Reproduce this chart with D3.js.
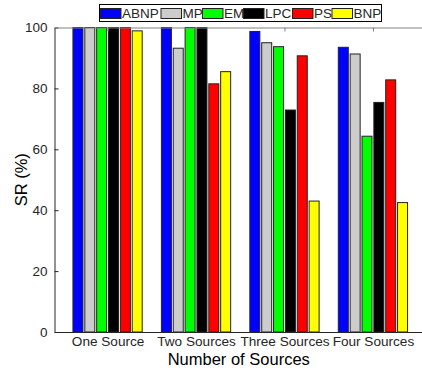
<!DOCTYPE html>
<html><head><meta charset="utf-8">
<script src="https://cdn.jsdelivr.net/npm/d3@7"></script>
<style>body{margin:0;background:#fff}svg{display:block;font-family:"Liberation Sans",Arial,sans-serif}</style>
</head><body><svg id="c" width="422" height="368"></svg>
<script>
const categories = ["One Source","Two Sources","Three Sources","Four Sources"];
const seriesNames = ["ABNP","MP","EM","LPC","PS","BNP"];
const seriesColors = ["#0000ff","#cccccc","#00ff00","#000000","#ff0000","#ffff00"];
const ABNP = [100, 100, 98.7, 93.5];
const MP   = [100, 93.2, 95.0, 91.3];
const EM   = [100, 100, 93.7, 64.3];
const LPC  = [100, 100, 72.9, 75.4];
const PS   = [100, 81.5, 90.7, 82.8];
const BNP  = [98.9, 85.5, 43.0, 42.5];
const yTicks = [0,20,40,60,80,100];
const seriesValues = [ABNP, MP, EM, LPC, PS, BNP];

const svg = d3.select("#c");
const L = 54.5, R = 426, T = 27.5, B = 332;
const x = d3.scaleLinear().domain([0.4, 4.6]).range([L, R]);
const y = d3.scaleLinear().domain([0, 100]).range([B, T]);
const txt = "#262626", axc = "#262626";
const pitch = 0.134, bw = 0.113;

// bars
const g = svg.append("g");
seriesValues.forEach((vals, s) => {
  g.selectAll(null).data(vals).enter().append("rect")
    .attr("x", (d,i) => x(i+1 + (s-2.5)*pitch - bw/2))
    .attr("width", x(bw) - x(0))
    .attr("y", d => y(d))
    .attr("height", d => y(0) - y(d))
    .attr("fill", seriesColors[s])
    .attr("stroke", "#222").attr("stroke-width", 1);
});

// axes
const yAxis = d3.axisLeft(y).tickValues(yTicks).tickSizeInner(-4).tickSizeOuter(0).tickPadding(7);
const ya = svg.append("g").attr("transform", `translate(${L},0)`).call(yAxis);
ya.select(".domain").attr("stroke", axc);
ya.selectAll(".tick line").attr("stroke", axc);
ya.selectAll("text").attr("font-size", 13.5).attr("fill", txt).attr("font-family","Liberation Sans, Arial, sans-serif");

const xAxis = d3.axisBottom(x).tickValues([1,2,3,4]).tickFormat(i => categories[i-1]).tickSizeInner(0).tickSizeOuter(0).tickPadding(4);
const xa = svg.append("g").attr("transform", `translate(0,${B})`).call(xAxis);
xa.select(".domain").attr("stroke", axc);
xa.selectAll("text").attr("font-size", 13.6).attr("fill", txt).attr("font-family","Liberation Sans, Arial, sans-serif");

const xTop = d3.axisTop(x).tickValues([1,2,3,4]).tickFormat("").tickSizeInner(-4).tickSizeOuter(0);
const xt = svg.append("g").attr("transform", `translate(0,${T})`).call(xTop);
xt.select(".domain").attr("stroke", "#808080");
xt.selectAll(".tick line").attr("stroke", "#808080");

// axis labels
svg.append("text").attr("x", (L+421)/2 + 1).attr("y", 365).attr("text-anchor","middle")
  .attr("font-size", 16.5).attr("fill", "#000").text("Number of Sources");
svg.append("text").attr("transform", `translate(27,${(T+B)/2}) rotate(-90)`).attr("text-anchor","middle")
  .attr("font-size", 16.5).attr("fill", "#000").text("SR (%)");

// legend
const lg = svg.append("g");
lg.append("rect").attr("x", 99.5).attr("y", 4.5).attr("width", 282).attr("height", 17)
  .attr("fill", "#fff").attr("stroke", "#000").attr("stroke-width", 1);
const patchX = [100.5, 161, 202.5, 243.5, 292.5, 332];
seriesNames.forEach((n, i) => {
  lg.append("rect").attr("x", patchX[i]).attr("y", 8.5).attr("width", 20.5).attr("height", 10)
    .attr("fill", seriesColors[i]).attr("stroke", "#222").attr("stroke-width", 1);
  lg.append("text").attr("x", patchX[i] + 21.5).attr("y", 18).attr("font-size", 13.5)
    .attr("fill", txt).text(n);
});
</script>
</body></html>
